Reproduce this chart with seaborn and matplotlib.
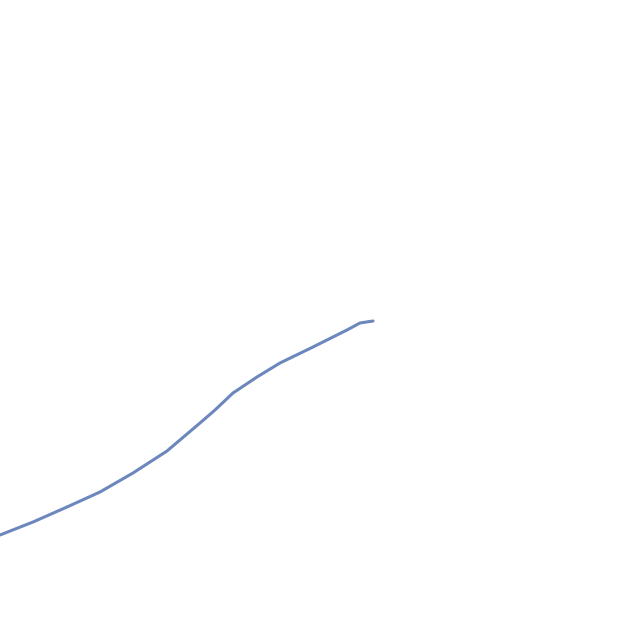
import numpy as np
import pandas as pd
import matplotlib
matplotlib.use('Agg')
import matplotlib.pyplot as plt
import seaborn as sns

# x position and value of the line (no axes in the reference, so pixel-like units)
x_vals = [0, 33, 67, 100, 133, 167, 200, 215, 233, 257, 280, 313, 347, 360, 373]
y_vals = [105, 118, 133, 148, 167, 189, 217, 230, 247, 263, 277, 293, 310, 317, 319]

df = pd.DataFrame({'x': x_vals, 'y': y_vals})

sns.set_style('white')
fig = plt.figure(figsize=(6.4, 6.4), dpi=100)
ax = fig.add_axes([0, 0, 1, 1])
sns.lineplot(data=df, x='x', y='y', ax=ax, color='#6c87bd', linewidth=2.2)
ax.set_xlim(0, 640)
ax.set_ylim(0, 640)
ax.axis('off')

fig.savefig('out.png', dpi=100)
